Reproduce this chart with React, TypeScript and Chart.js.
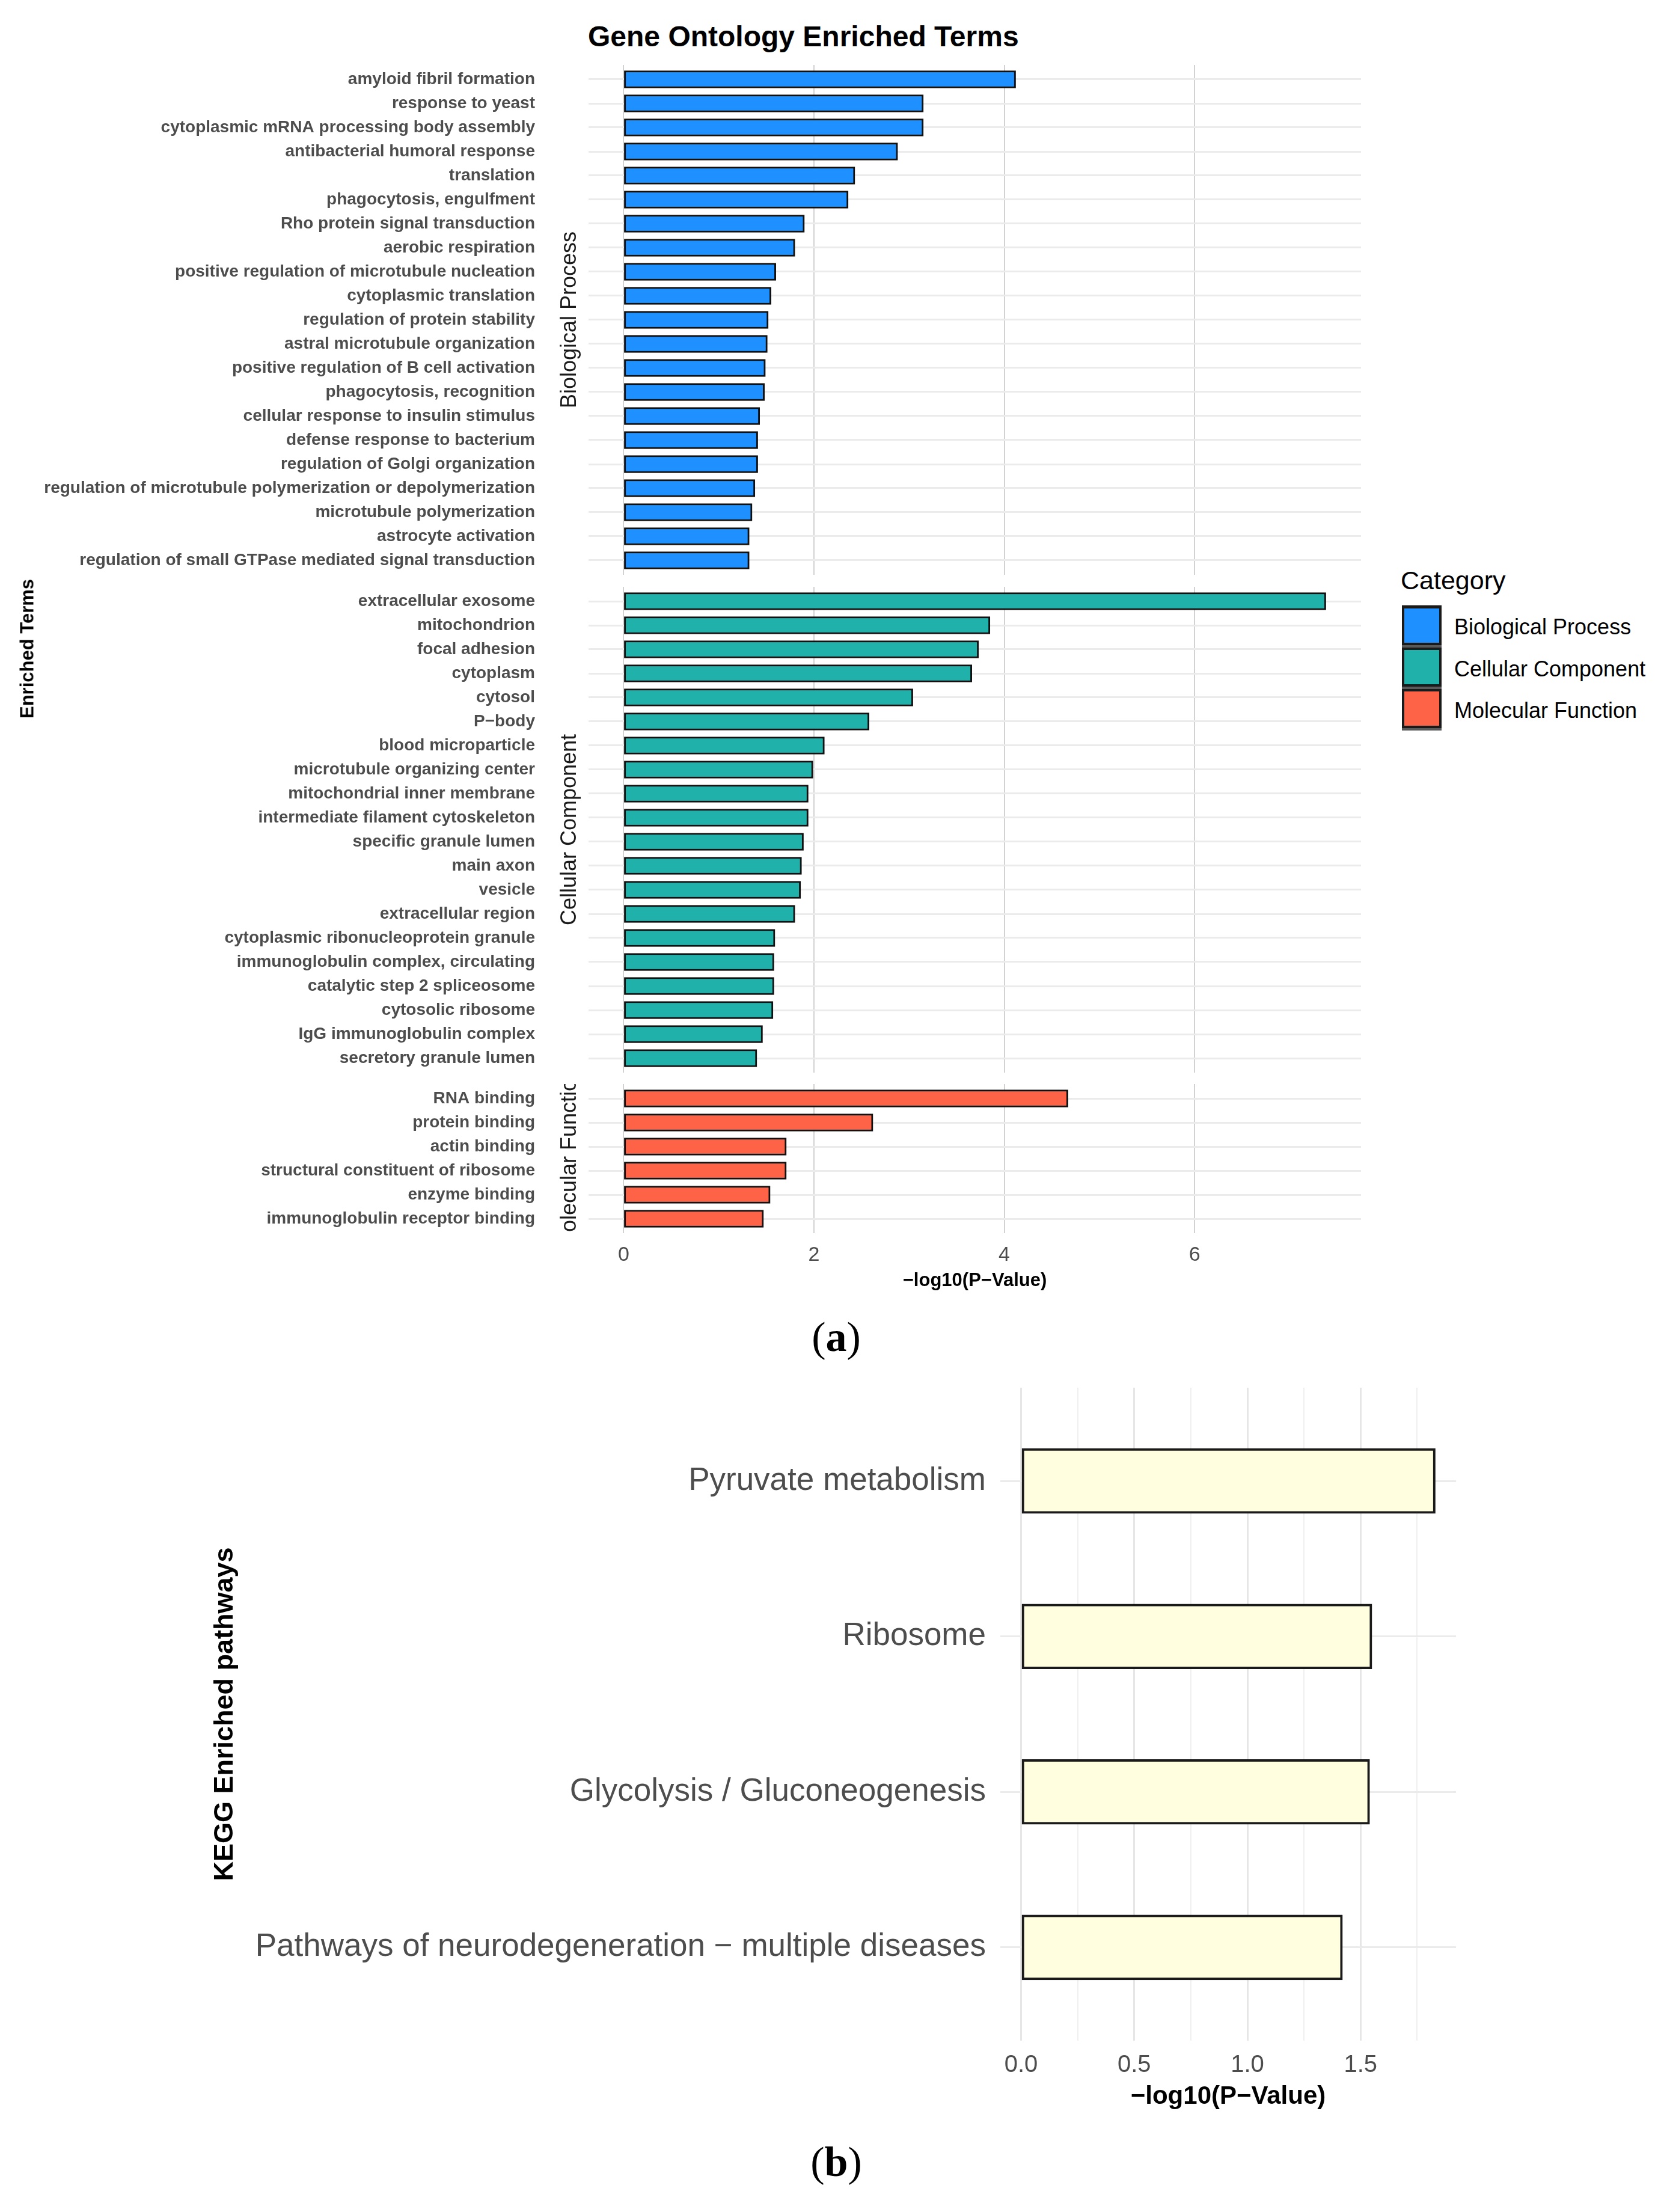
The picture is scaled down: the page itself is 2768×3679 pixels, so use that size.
import React, { useEffect, useRef } from "react";
import { Chart, registerables } from "chart.js";

Chart.register(...registerables);

const FONT = '"Liberation Sans", Arial, Helvetica, sans-serif';
const SERIF = '"Liberation Serif", "Times New Roman", serif';

// ---------------- DATA ----------------
const bpTerms = [
  "amyloid fibril formation",
  "response to yeast",
  "cytoplasmic mRNA processing body assembly",
  "antibacterial humoral response",
  "translation",
  "phagocytosis, engulfment",
  "Rho protein signal transduction",
  "aerobic respiration",
  "positive regulation of microtubule nucleation",
  "cytoplasmic translation",
  "regulation of protein stability",
  "astral microtubule organization",
  "positive regulation of B cell activation",
  "phagocytosis, recognition",
  "cellular response to insulin stimulus",
  "defense response to bacterium",
  "regulation of Golgi organization",
  "regulation of microtubule polymerization or depolymerization",
  "microtubule polymerization",
  "astrocyte activation",
  "regulation of small GTPase mediated signal transduction",
];
const bpValues = [4.12, 3.15, 3.15, 2.88, 2.43, 2.36, 1.9, 1.8, 1.6, 1.55, 1.52, 1.51, 1.49, 1.48, 1.43, 1.41, 1.41, 1.38, 1.35, 1.32, 1.32];

const ccTerms = [
  "extracellular exosome",
  "mitochondrion",
  "focal adhesion",
  "cytoplasm",
  "cytosol",
  "P\u2212body",
  "blood microparticle",
  "microtubule organizing center",
  "mitochondrial inner membrane",
  "intermediate filament cytoskeleton",
  "specific granule lumen",
  "main axon",
  "vesicle",
  "extracellular region",
  "cytoplasmic ribonucleoprotein granule",
  "immunoglobulin complex, circulating",
  "catalytic step 2 spliceosome",
  "cytosolic ribosome",
  "IgG immunoglobulin complex",
  "secretory granule lumen",
];
const ccValues = [7.38, 3.85, 3.73, 3.66, 3.04, 2.58, 2.11, 1.99, 1.94, 1.94, 1.89, 1.87, 1.86, 1.8, 1.59, 1.58, 1.58, 1.57, 1.46, 1.4];

const mfTerms = [
  "RNA binding",
  "protein binding",
  "actin binding",
  "structural constituent of ribosome",
  "enzyme binding",
  "immunoglobulin receptor binding",
];
const mfValues = [4.67, 2.62, 1.71, 1.71, 1.54, 1.47];

const categories = ["Biological Process", "Cellular Component", "Molecular Function"];
const categoryColors = ["#1E90FF", "#20B2AA", "#FF6347"];
const goXTicks = [0, 2, 4, 6];

const keggTerms = [
  "Pyruvate metabolism",
  "Ribosome",
  "Glycolysis / Gluconeogenesis",
  "Pathways of neurodegeneration \u2212 multiple diseases",
];
const keggValues = [1.83, 1.55, 1.54, 1.42];
const keggXTicks = [0, 0.5, 1, 1.5];
const keggMinorTicks = [0.25, 0.75, 1.25, 1.75];
const keggColor = "#FFFFE0";

const xTitle = "\u2212log10(P\u2212Value)";

// ---------------- PLUGIN: facet strip text ----------------
const stripPlugin = {
  id: "stripLabel",
  afterDraw(chart: any, _args: any, opts: any) {
    if (!opts || !opts.text) return;
    const { ctx, chartArea } = chart;
    const cy = (chartArea.top + chartArea.bottom) / 2;
    ctx.save();
    ctx.beginPath();
    ctx.rect(opts.x - 40, chartArea.top, 80, chartArea.bottom - chartArea.top);
    ctx.clip();
    ctx.translate(opts.x, cy);
    ctx.rotate(-Math.PI / 2);
    ctx.font = `${opts.size}px ${FONT}`;
    ctx.fillStyle = opts.color;
    ctx.textAlign = "center";
    ctx.textBaseline = "middle";
    ctx.fillText(opts.text, 0, 0);
    ctx.restore();
  },
};

const goAll = [...bpValues, ...ccValues, ...mfValues];
const goMaxVal = Math.max(...goAll);
const GO_MIN = -0.05 * goMaxVal;
const GO_MAX = 1.05 * goMaxVal;

function goConfig(
  terms: string[],
  values: number[],
  color: string,
  strip: string,
  showX: boolean,
  padTop: number
): any {
  return {
    type: "bar",
    data: {
      datasets: [
        {
          data: values.map((v, i) => ({ x: v, y: i })),
          backgroundColor: color,
          borderColor: "#111111",
          borderWidth: 3,
          borderSkipped: false,
          barThickness: 29,
        },
      ],
    },
    options: {
      indexAxis: "y",
      animation: false,
      responsive: false,
      events: [],
      layout: { padding: { left: 0, right: 36, top: padTop, bottom: 0 } },
      plugins: {
        legend: { display: false },
        tooltip: { enabled: false },
        stripLabel: { text: strip, x: 948, size: 36, color: "#1A1A1A" },
      },
      scales: {
        x: {
          type: "linear",
          min: GO_MIN,
          max: GO_MAX,
          bounds: "data",
          offset: false,
          afterBuildTicks: (s: any) => {
            s.ticks = goXTicks.map((v) => ({ value: v }));
          },
          afterFit: (s: any) => {
            s.height = showX ? 98 : 0;
            s.paddingLeft = 0;
            s.paddingRight = 0;
          },
          grid: { color: "#D2D2D2", lineWidth: 2, drawTicks: false, offset: false },
          border: { display: false },
          ticks: {
            display: showX,
            padding: 16,
            color: "#4D4D4D",
            font: { family: FONT, size: 34 },
            autoSkip: false,
            maxRotation: 0,
            callback: (v: any) => String(v),
          },
          title: {
            display: showX,
            text: xTitle,
            color: "#000000",
            font: { family: FONT, size: 31, weight: "bold" },
            padding: 0,
          },
        },
        y: {
          type: "linear",
          reverse: true,
          min: -0.6,
          max: terms.length - 0.4,
          bounds: "data",
          offset: false,
          afterBuildTicks: (s: any) => {
            s.ticks = terms.map((_, i) => ({ value: i }));
          },
          afterFit: (s: any) => {
            s.width = 979;
            s.paddingTop = 0;
            s.paddingBottom = 0;
          },
          grid: { color: "#EBEBEB", lineWidth: 3, drawTicks: false, offset: false },
          border: { display: false },
          ticks: {
            padding: 89,
            autoSkip: false,
            color: "#4D4D4D",
            font: { family: FONT, size: 28, weight: "bold" },
            callback: (v: any) => terms[v] ?? "",
          },
        },
      },
    },
    plugins: [stripPlugin],
  };
}

const keggMax = Math.max(...keggValues);
const KEGG_MIN = -0.05 * keggMax;
const KEGG_MAX = 1.05 * keggMax;

function keggConfig(): any {
  return {
    type: "bar",
    data: {
      datasets: [
        {
          data: keggValues.map((v, i) => ({ x: v, y: i })),
          backgroundColor: keggColor,
          borderColor: "#1A1A1A",
          borderWidth: 4,
          borderSkipped: false,
          barThickness: 108,
        },
      ],
    },
    options: {
      indexAxis: "y",
      animation: false,
      responsive: false,
      events: [],
      layout: { padding: { left: 348, right: 38, top: 20, bottom: 0 } },
      plugins: { legend: { display: false }, tooltip: { enabled: false } },
      scales: {
        x: {
          type: "linear",
          min: KEGG_MIN,
          max: KEGG_MAX,
          bounds: "data",
          offset: false,
          afterBuildTicks: (s: any) => {
            s.ticks = [...keggXTicks, ...keggMinorTicks]
              .sort((a, b) => a - b)
              .map((v) => ({ value: v }));
          },
          afterFit: (s: any) => {
            s.height = 119;
            s.paddingLeft = 0;
            s.paddingRight = 0;
          },
          grid: {
            color: (c: any) =>
              c.tick && keggXTicks.includes(c.tick.value) ? "#E6E6E6" : "#EFEFEF",
            lineWidth: (c: any) =>
              c.tick && keggXTicks.includes(c.tick.value) ? 3 : 2,
            drawTicks: false,
            offset: false,
          },
          border: { display: false },
          ticks: {
            padding: 17,
            color: "#4D4D4D",
            font: { family: FONT, size: 40 },
            autoSkip: false,
            maxRotation: 0,
            callback: (v: any) => (keggXTicks.includes(v) ? Number(v).toFixed(1) : ""),
          },
          title: {
            display: true,
            text: xTitle,
            color: "#000000",
            font: { family: FONT, size: 42, weight: "bold" },
            padding: 0,
          },
        },
        y: {
          type: "linear",
          reverse: true,
          min: -0.6,
          max: keggTerms.length - 0.4,
          bounds: "data",
          offset: false,
          afterBuildTicks: (s: any) => {
            s.ticks = keggTerms.map((_, i) => ({ value: i }));
          },
          afterFit: (s: any) => {
            s.width = 1316;
            s.paddingTop = 0;
            s.paddingBottom = 0;
          },
          grid: { color: "#EBEBEB", lineWidth: 3, drawTicks: false, offset: false },
          border: { display: false },
          ticks: {
            padding: 24,
            autoSkip: false,
            color: "#4D4D4D",
            font: { family: FONT, size: 53 },
            callback: (v: any) => keggTerms[v] ?? "",
          },
          title: {
            display: true,
            text: "KEGG Enriched pathways",
            color: "#000000",
            font: { family: FONT, size: 45, weight: "bold" },
            padding: 0,
          },
        },
      },
    },
  };
}

function ChartCanvas(props: { left: number; top: number; width: number; height: number; make: () => any }) {
  const ref = useRef<HTMLCanvasElement | null>(null);
  useEffect(() => {
    if (!ref.current) return;
    const chart = new Chart(ref.current, props.make());
    return () => chart.destroy();
  }, []);
  return (
    <canvas
      ref={ref}
      width={props.width}
      height={props.height}
      style={{
        position: "absolute",
        left: props.left,
        top: props.top,
        width: props.width,
        height: props.height,
      }}
    />
  );
}

function Txt(props: {
  x: number;
  y: number;
  size: number;
  children: any;
  weight?: string | number;
  color?: string;
  family?: string;
  align?: "left" | "center";
  rotate?: boolean;
}) {
  const { x, y, size, weight = "normal", color = "#000", family = FONT, align = "left", rotate = false } = props;
  const style: any = {
    position: "absolute",
    left: x,
    top: rotate ? y : y - size / 2,
    fontSize: size,
    lineHeight: `${size}px`,
    fontFamily: family,
    fontWeight: weight,
    color,
    whiteSpace: "nowrap",
  };
  if (rotate) style.transform = "translate(-50%, -50%) rotate(-90deg)";
  else if (align === "center") style.transform = "translateX(-50%)";
  return <div style={style}>{props.children}</div>;
}

export default function App() {
  const keyTops = [1008, 1077, 1146];
  const labelYs = [1043, 1113, 1182];
  return (
    <div
      style={{
        position: "relative",
        width: 2768,
        height: 3679,
        background: "#ffffff",
        overflow: "hidden",
      }}
    >
      <style>{"html,body{margin:0;padding:0;background:#fff;}"}</style>

      {/* Panel (a) */}
      <Txt x={978} y={61} size={48} weight="bold">
        Gene Ontology Enriched Terms
      </Txt>
      <ChartCanvas
        left={0}
        top={88}
        width={2300}
        height={868}
        make={() => goConfig(bpTerms, bpValues, categoryColors[0], categories[0], false, 20)}
      />
      <ChartCanvas
        left={0}
        top={956}
        width={2300}
        height={828}
        make={() => goConfig(ccTerms, ccValues, categoryColors[1], categories[1], false, 20)}
      />
      <ChartCanvas
        left={0}
        top={1780}
        width={2300}
        height={369}
        make={() => goConfig(mfTerms, mfValues, categoryColors[2], categories[2], true, 23)}
      />
      <Txt x={45} y={1079} size={31} weight="bold" rotate>
        Enriched Terms
      </Txt>

      {/* Legend */}
      <Txt x={2330} y={965} size={43}>
        Category
      </Txt>
      <div
        style={{
          position: "absolute",
          left: 2332,
          top: 1006,
          width: 66,
          height: 209,
          background: "#5A5A5A",
        }}
      />
      {categories.map((c, i) => (
        <React.Fragment key={c}>
          <div
            style={{
              position: "absolute",
              left: 2332,
              top: keyTops[i],
              width: 66,
              height: 65,
              boxSizing: "border-box",
              border: "4px solid #1A1A1A",
              background: categoryColors[i],
            }}
          />
          <Txt x={2419} y={labelYs[i]} size={36}>
            {c}
          </Txt>
        </React.Fragment>
      ))}

      <Txt x={1391} y={2224} size={70} family={SERIF} align="center">
        (<b>a</b>)
      </Txt>

      {/* Panel (b) */}
      <ChartCanvas left={0} top={2288} width={2460} height={1225} make={keggConfig} />

      <Txt x={1391} y={3596} size={70} family={SERIF} align="center">
        (<b>b</b>)
      </Txt>
    </div>
  );
}
